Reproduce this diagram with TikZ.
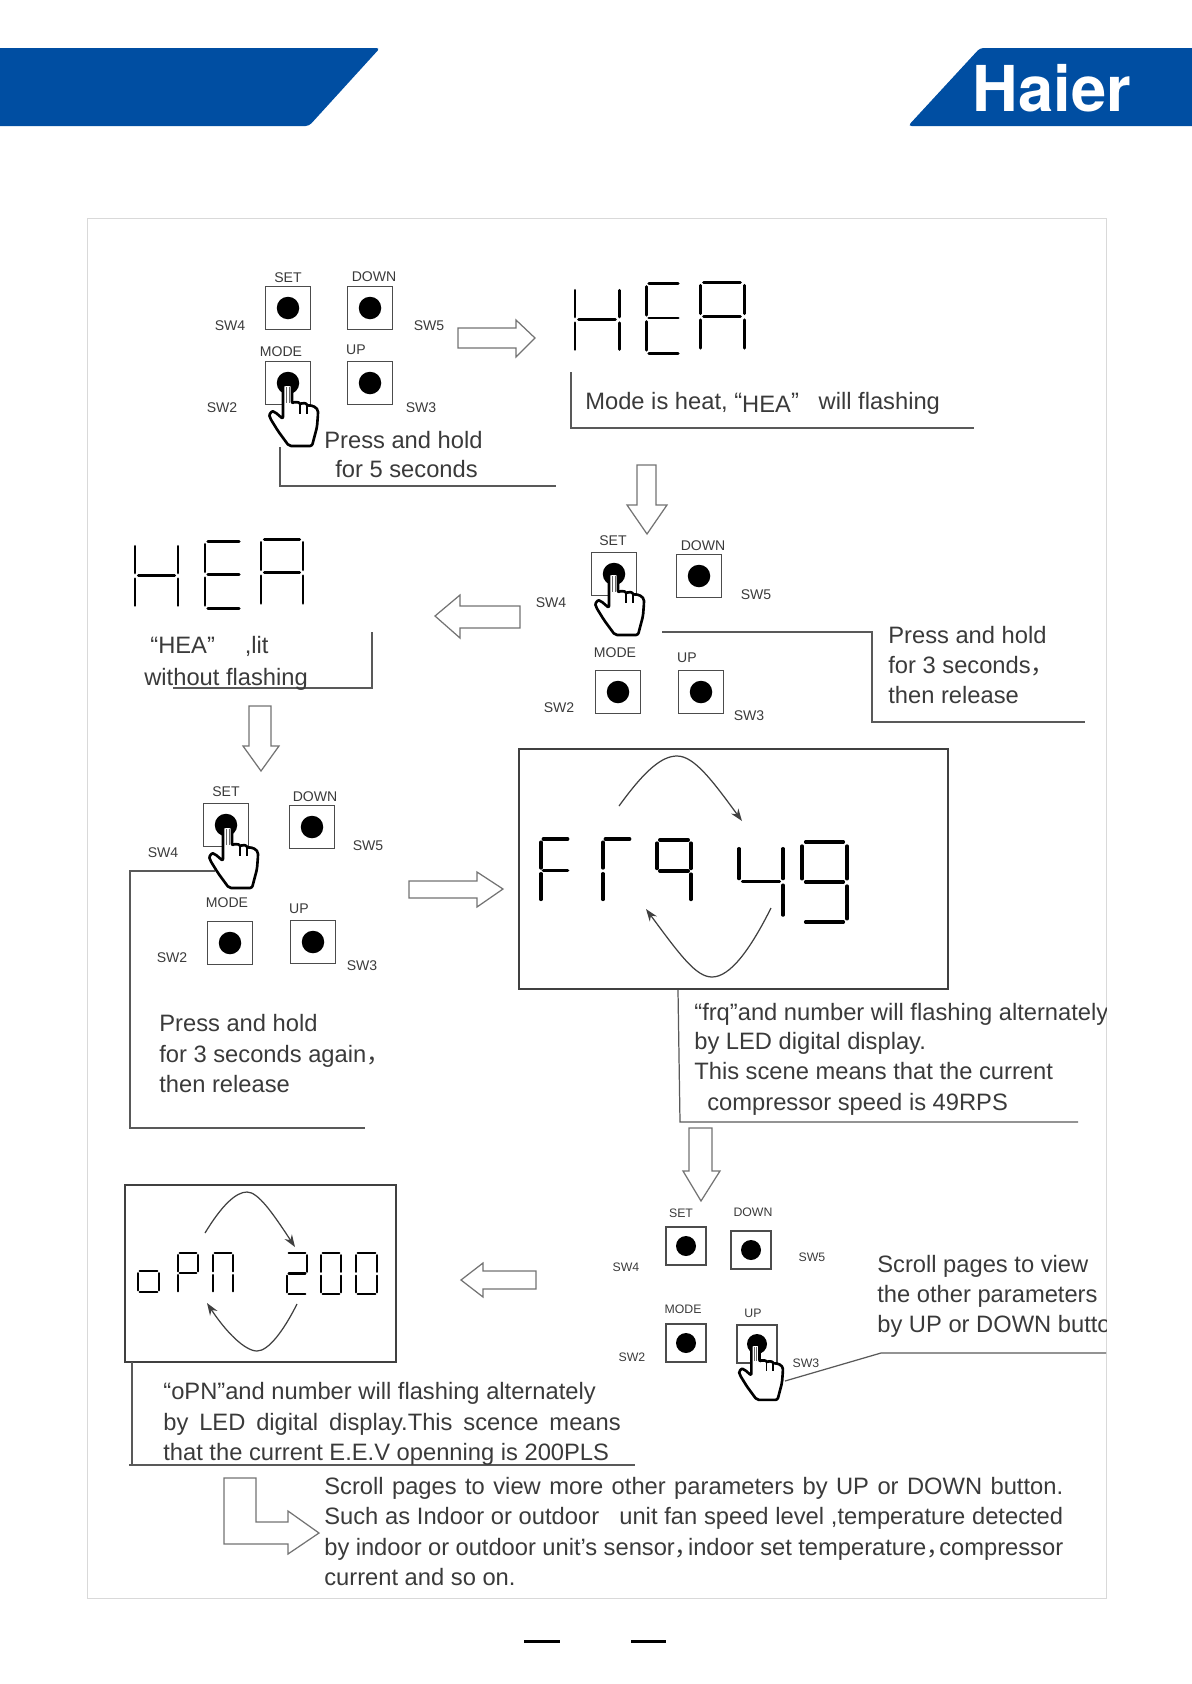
\documentclass[tikz,border=0pt]{standalone}
\usepackage{fontspec}
\setmainfont{Liberation Sans}
\newfontfamily\logofont{TeX Gyre Heros}
\newfontfamily\cjk{Noto Sans CJK SC}
\usetikzlibrary{arrows.meta}
\definecolor{haierblue}{HTML}{004EA2}
\definecolor{textgrey}{HTML}{3A3A3A}
% seven segment parts on a unit cell
\newcommand{\sega}{(.08,0) -- (.92,0)}
\newcommand{\segb}{(1,.05) -- (1,.46)}
\newcommand{\segc}{(1,.55) -- (1,.96)}
\newcommand{\segd}{(.08,1) -- (.92,1)}
\newcommand{\sege}{(0,.55) -- (0,.96)}
\newcommand{\segf}{(0,.05) -- (0,.46)}
\newcommand{\segg}{(.08,.5) -- (.92,.5)}
\newcommand{\segdigit}[6][1.7pt]{%
\begin{scope}[shift={(#2,#3)},xscale=#4,yscale=#5]
\foreach \s in {#6} {\draw[line width=#1,line cap=round] \csname seg\s\endcsname;}
\end{scope}}
\newcommand{\widecomma}{\makebox[.55em][l]{\cjk ，}}
\tikzset{
btn/.style={draw=black!70,line width=0.8pt,inner sep=0pt,minimum width=0.9cm,minimum height=0.86cm,
  path picture={\fill (path picture bounding box.center) circle (0.225cm);}},
btnsmall/.style={btn,minimum width=0.8cm,minimum height=0.76cm,
  path picture={\fill (path picture bounding box.center) circle (0.2cm);}},
swlab/.style={text=textgrey,font=\fontsize{8}{9}\selectfont,inner sep=0pt},
swsmall/.style={swlab,font=\fontsize{7}{8}\selectfont},
txt/.style={text=textgrey,font=\fontsize{13.5}{15}\selectfont,anchor=west,inner sep=0pt,text height=10pt,text depth=3pt,yshift=-0.035cm},
lead/.style={draw=black!65,line width=0.7pt},
hollow/.style={draw=black!55,line width=0.7pt,fill=white},
dispbox/.style={draw=black!75,line width=0.9pt},
loopline/.style={draw=black!75,line width=0.7pt,-{Stealth[length=7pt,width=5pt]}},
pics/hand/.style={code={
  \draw[line width=1.5pt,fill=white,rounded corners=1.2pt,line join=round]
    (-4,34) -- (-4,3) .. controls (-4,-1) and (5,-1) .. (5,3) -- (5,19)
    .. controls (7,17) and (12,17) .. (13,20) .. controls (15,18) and (19,18) .. (20,21)
    .. controls (24,20) and (31,22) .. (31,29) -- (30,42) -- (25,61) -- (2,61) -- (-9,46)
    -- (-17,33) .. controls (-18,29) and (-15,26) .. (-12,27) -- cycle;
  \draw[line width=0.8pt] (13,20) -- (13,29) (20,21) -- (20,29);
  \draw[line width=0.5pt,draw=black!60] (-1,2) -- (-1,18) (2,2) -- (2,18);
}}
}
\begin{document}
\begin{tikzpicture}[x=0.02cm,y=-0.02cm]
\useasboundingbox (0,0) rectangle (1191,1684);
% header bands
\fill[haierblue,rounded corners=2pt] (-5,48) -- (380,48) -- (309,126) -- (-5,126) -- cycle;
\fill[haierblue,rounded corners=2pt] (908,126) -- (980,48) -- (1196,48) -- (1196,126) -- cycle;
\node[text=white,font=\logofont\bfseries\fontsize{36}{36}\selectfont,inner sep=0pt] (logo) at (1052,88) {Haier};
% page frame
\draw[draw=black!15,line width=0.5pt] (87,218) rectangle (1106,1598);
% first panel
\foreach \n/\x/\y in {setA/288/308,downA/370/308,modeA/288/383,upA/370/383}
  \node[btn] (\n) at (\x,\y) {};
\foreach \n/\x/\y/\t in {lsetA/288/278/SET,ldownA/374/277/DOWN,lfourA/230/326/SW4,lfiveA/429/326/SW5,lmodeA/281/352/MODE,lupA/356/350/UP,ltwoA/222/408/SW2,lthreeA/421/408/SW3}
  \node[swlab] (\n) at (\x,\y) {\t};
\pic at (287,385) {hand};
\draw[lead] (280,447) -- (280,486) -- (556,486);
\draw[hollow] (458,328) -- (516,328) -- (516,320) -- (535,338) -- (516,357) -- (516,348) -- (458,348) -- cycle;
\node[txt] (pressA) at (324,441) {Press and hold};
\node[txt] (pressB) at (335,470) {for 5 seconds};
% HEA flashing
\segdigit{575}{287}{44}{65}{b,c,e,f,g}
\segdigit{646}{283}{35}{70}{a,d,e,f,g}
\segdigit{700}{282}{44}{69}{a,b,c,e,f,g}
\draw[lead] (571,372) -- (571,428) -- (974,428);
\node[txt] (modeheat) at (585,402) {Mode is heat, “\raisebox{-1.5pt}{HEA}”\ \ \ will flashing};
\draw[hollow] (637,465) -- (656,465) -- (656,505) -- (667,505) -- (647,534) -- (627,505) -- (637,505) -- cycle;
% second panel
\foreach \n/\x/\y in {setB/614/574,downB/699/576,modeB/618/692,upB/701/692}
  \node[btn] (\n) at (\x,\y) {};
\foreach \n/\x/\y/\t in {lsetB/613/541/SET,ldownB/703/546/DOWN,lfourB/551/603/SW4,lfiveB/756/595/SW5,lmodeB/615/653/MODE,lupB/687/658/UP,ltwoB/559/708/SW2,lthreeB/749/716/SW3}
  \node[swlab] (\n) at (\x,\y) {\t};
\pic at (613,574) {hand};
\draw[lead] (662,632) -- (872,632) -- (872,722) -- (1085,722);
\node[txt] (pressC) at (888,636) {Press and hold};
\node[txt] (pressD) at (888,666) {for 3 seconds\widecomma};
\node[txt] (pressE) at (888,696) {then release};
\draw[hollow] (435,616) -- (460,595) -- (460,606) -- (520,606) -- (520,628) -- (460,628) -- (460,638) -- cycle;
% HEA lit
\segdigit{135}{543}{43}{65}{b,c,e,f,g}
\segdigit{205}{541}{37}{67}{a,d,e,f,g}
\segdigit{261}{539}{42}{67}{a,b,c,e,f,g}
\draw[lead] (372,632) -- (372,688) -- (173,688);
\node[txt] (heaA) at (150,646) {“HEA”\hspace{17pt},lit};
\node[txt] (heaB) at (144,678) {without flashing};
\draw[hollow] (249,706) -- (271,706) -- (271,746) -- (279,746) -- (261,771) -- (243,746) -- (249,746) -- cycle;
% third panel
\foreach \n/\x/\y in {setC/226/825,downC/312/827,modeC/230/943,upC/313/942}
  \node[btn] (\n) at (\x,\y) {};
\foreach \n/\x/\y/\t in {lsetC/226/792/SET,ldownC/315/797/DOWN,lfourC/163/853/SW4,lfiveC/368/846/SW5,lmodeC/227/903/MODE,lupC/299/909/UP,ltwoC/172/958/SW2,lthreeC/362/966/SW3}
  \node[swlab] (\n) at (\x,\y) {\t};
\draw[lead] (215,871) -- (130,871) -- (130,1128) -- (365,1128);
\pic at (227,827) {hand};
\node[txt] (againA) at (159,1024) {Press and hold};
\node[txt] (againB) at (159,1055) {for 3 seconds again\widecomma};
\node[txt] (againC) at (159,1085) {then release};
\draw[hollow] (409,881) -- (477,881) -- (477,872) -- (503,889) -- (477,907) -- (477,898) -- (409,898) -- cycle;
% frq display
\draw[dispbox] (519,749) rectangle (948,989);
\segdigit[1.9pt]{541}{839}{29}{63}{a,e,f,g}
\segdigit[1.9pt]{603}{839}{29}{63}{a,e,f}
\segdigit[1.9pt]{657}{840}{34}{62}{a,b,c,f,g}
\segdigit[1.9pt]{739}{845}{44}{73}{b,c,f,g}
\segdigit[1.9pt]{802}{842}{45}{80}{a,b,c,d,f,g}
\draw[loopline] (619,806) .. controls (645,770) and (662,756) .. (677,756) .. controls (694,756) and (712,780) .. (742,821);
\draw[loopline] (771,908) .. controls (750,950) and (730,977) .. (712,977) .. controls (696,977) and (680,955) .. (646,909);
\begin{scope}
\clip (87,218) rectangle (1106,1598);
\draw[lead] (678,990) -- (680,1122) -- (1078,1122);
\node[txt] (frqA) at (694,1013) {“frq”and number will flashing alternately};
\node[txt] (frqB) at (694,1042) {by LED digital display.};
\node[txt] (frqC) at (694,1072) {This scene means that the current};
\node[txt] (frqD) at (707,1103) {compressor speed is 49RPS};
\node[txt] (scrollA) at (877,1265) {Scroll pages to view};
\node[txt] (scrollB) at (877,1295) {the other parameters};
\node[txt] (scrollC) at (877,1325) {by UP or DOWN button};
\draw[lead] (785,1381) -- (881,1353) -- (1106,1353);
\end{scope}
\draw[hollow] (689,1128) -- (712,1128) -- (712,1171) -- (720,1171) -- (701,1201) -- (683,1171) -- (689,1171) -- cycle;
% fourth panel
\foreach \n/\x/\y in {setD/686/1246,downD/751/1250,modeD/686/1343,upD/757/1344}
  \node[btnsmall] (\n) at (\x,\y) {};
\foreach \n/\x/\y/\t in {lsetD/681/1213/SET,ldownD/753/1212/DOWN,lfourD/626/1267/SW4,lfiveD/812/1257/SW5,lmodeD/683/1309/MODE,lupD/753/1313/UP,ltwoD/632/1357/SW2,lthreeD/806/1363/SW3}
  \node[swsmall] (\n) at (\x,\y) {\t};
\pic[scale=.9] at (755,1345) {hand};
\draw[hollow] (461,1280) -- (483,1263) -- (483,1271) -- (536,1271) -- (536,1289) -- (483,1289) -- (483,1297) -- cycle;
% oPN display
\draw[dispbox] (125,1185) rectangle (396,1362);
\segdigit[1.2pt]{138}{1250}{21}{42}{c,d,e,g}
\segdigit[1.2pt]{178}{1253}{20}{40}{a,b,e,f,g}
\segdigit[1.2pt]{213}{1253}{20}{40}{a,b,c,e,f}
\segdigit[1.2pt]{287}{1253}{20}{41}{a,b,d,e,g}
\segdigit[1.2pt]{321}{1253}{20}{41}{a,b,c,d,e,f}
\segdigit[1.2pt]{356}{1253}{21}{41}{a,b,c,d,e,f}
\draw[loopline] (205,1233) .. controls (222,1205) and (236,1192) .. (247,1192) .. controls (258,1192) and (272,1212) .. (295,1247);
\draw[loopline] (297,1304) .. controls (283,1332) and (268,1351) .. (257,1351) .. controls (245,1351) and (226,1332) .. (207,1303);
\draw[lead] (132,1362) -- (132,1465);
\draw[lead] (129,1465) -- (635,1465);
\node[txt] (opnA) at (163,1392) {“oPN”and number will flashing alternately};
\node[txt] (opnB) at (163,1423) {\makebox[9.15cm][s]{by\ \ LED\ \ digital\ \ display.This\ \ scence\ \ means}};
\node[txt] (opnC) at (163,1453) {that the current E.E.V openning is 200PLS};
% last step
\draw[hollow] (224,1478) -- (256,1478) -- (256,1522) -- (288,1522) -- (288,1511) -- (319,1533) -- (288,1554) -- (288,1544) -- (224,1544) -- cycle;
\node[txt] (moreA) at (324,1487) {\makebox[14.78cm][s]{Scroll pages to view more other parameters by UP or DOWN button.}};
\node[txt] (moreB) at (324,1517) {\makebox[14.78cm][s]{Such as Indoor or outdoor\ \ \ unit fan speed level ,temperature detected}};
\node[txt] (moreC) at (324,1548) {\makebox[14.78cm][s]{by indoor or outdoor unit’s sensor\widecomma indoor set temperature\widecomma compressor}};
\node[txt] (moreD) at (324,1578) {current and so on.};
% page number marks
\fill (524,1640) rectangle (560,1642.5);
\fill (631,1640) rectangle (666,1642.5);
\end{tikzpicture}
\end{document}
